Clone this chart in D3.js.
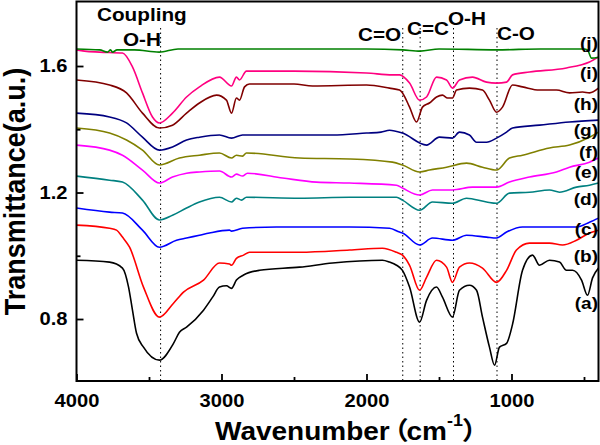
<!DOCTYPE html>
<html>
<head>
<meta charset="utf-8">
<script src="https://cdn.jsdelivr.net/npm/d3@7"></script>
<style>
  body { margin: 0; background: #fff; }
  text { font-family: "Liberation Sans", Arial, "Noto Sans CJK SC", sans-serif; font-weight: bold; fill: #000; }
</style>
</head>
<body>
<div id="chart"></div>
<script>
// FTIR spectra: [wavenumber (cm-1), transmittance (a.u.)]
let specA = [[4000,0.986],[3772,0.980],[3683,0.961],[3641,0.901],[3614,0.828],[3586,0.755],[3538,0.711],[3428,0.670],[3331,0.723],[3290,0.758],[3241,0.774],[3124,0.828],[3060,0.870],[3014,0.901],[2966,0.905],[2931,0.897],[2897,0.923],[2848,0.939],[2738,0.954],[2462,0.964],[2234,0.977],[1890,0.986],[1841,0.980],[1793,0.970],[1752,0.954],[1703,0.901],[1634,0.790],[1586,0.859],[1517,0.901],[1476,0.869],[1407,0.806],[1359,0.891],[1290,0.907],[1241,0.891],[1200,0.806],[1152,0.711],[1117,0.654],[1083,0.711],[1034,0.723],[993,0.783],[924,0.954],[855,1.002],[807,0.970],[738,0.986],[669,0.980],[621,0.954],[579,0.954],[517,0.923],[476,0.875],[441,0.930],[400,0.961]];
let specB = [[4000,1.097],[3772,1.087],[3724,1.081],[3683,1.059],[3634,1.027],[3538,0.901],[3428,0.806],[3331,0.850],[3262,0.885],[3124,0.923],[3014,0.977],[2945,0.974],[2931,0.970],[2897,0.992],[2848,1.002],[2807,1.011],[2462,1.011],[2117,1.018],[1890,1.024],[1793,1.011],[1752,1.002],[1703,0.970],[1634,0.891],[1586,0.932],[1517,0.986],[1448,0.964],[1407,0.916],[1359,0.964],[1290,0.977],[1200,0.961],[1103,0.916],[1034,0.954],[966,1.018],[876,1.040],[738,1.040],[648,1.034],[552,1.049],[462,1.072],[400,1.081]];
let specC = [[4000,1.151],[3772,1.138],[3683,1.135],[3545,1.081],[3428,1.027],[3310,1.049],[3241,1.056],[3152,1.065],[3083,1.072],[2945,1.081],[2931,1.078],[2855,1.087],[2621,1.091],[2372,1.091],[2117,1.091],[1841,1.087],[1772,1.075],[1752,1.072],[1634,1.034],[1545,1.056],[1407,1.049],[1310,1.065],[1172,1.059],[1103,1.056],[1034,1.075],[924,1.091],[690,1.091],[552,1.091],[462,1.106],[400,1.119]];
let specD = [[4000,1.252],[3772,1.239],[3683,1.233],[3545,1.176],[3428,1.113],[3338,1.128],[3241,1.151],[3152,1.170],[3014,1.185],[2931,1.170],[2897,1.182],[2862,1.176],[2828,1.185],[2462,1.182],[2117,1.185],[1793,1.185],[1752,1.176],[1634,1.144],[1545,1.170],[1407,1.166],[1310,1.182],[1172,1.170],[1103,1.166],[1014,1.198],[876,1.201],[738,1.208],[669,1.201],[552,1.217],[462,1.223],[400,1.230]];
let specE = [[4000,1.350],[3772,1.334],[3683,1.318],[3545,1.271],[3428,1.230],[3338,1.249],[3241,1.261],[3152,1.265],[3014,1.268],[2931,1.249],[2897,1.258],[2855,1.252],[2821,1.261],[2579,1.246],[2345,1.233],[2117,1.230],[1793,1.223],[1752,1.214],[1634,1.192],[1545,1.208],[1407,1.208],[1269,1.217],[1103,1.217],[1014,1.233],[876,1.249],[690,1.265],[600,1.280],[462,1.296],[400,1.309]];
let specF = [[4000,1.404],[3772,1.388],[3655,1.366],[3545,1.334],[3428,1.287],[3290,1.309],[3152,1.318],[3014,1.325],[2931,1.309],[2897,1.318],[2855,1.315],[2828,1.325],[2462,1.309],[2117,1.306],[1821,1.296],[1752,1.287],[1634,1.265],[1566,1.271],[1448,1.280],[1310,1.293],[1200,1.280],[1103,1.271],[1014,1.309],[924,1.318],[738,1.341],[600,1.350],[462,1.375],[400,1.391]];
let specG = [[4000,1.451],[3772,1.439],[3655,1.420],[3545,1.375],[3428,1.334],[3338,1.344],[3241,1.366],[3152,1.375],[3014,1.382],[2931,1.372],[2855,1.382],[2462,1.382],[2234,1.382],[2000,1.388],[1900,1.391],[1841,1.397],[1752,1.388],[1586,1.350],[1497,1.375],[1407,1.372],[1359,1.391],[1290,1.382],[1241,1.359],[1172,1.359],[1103,1.372],[1034,1.391],[993,1.404],[807,1.413],[600,1.423],[400,1.429]];
let specH = [[4000,1.556],[3772,1.540],[3655,1.515],[3545,1.451],[3428,1.404],[3338,1.413],[3241,1.451],[3152,1.483],[3034,1.508],[2966,1.492],[2931,1.451],[2897,1.499],[2876,1.492],[2841,1.534],[2807,1.543],[2500,1.543],[2372,1.537],[2000,1.540],[1841,1.530],[1772,1.524],[1752,1.515],[1703,1.470],[1655,1.423],[1614,1.470],[1566,1.483],[1517,1.502],[1476,1.508],[1441,1.499],[1407,1.499],[1379,1.524],[1290,1.530],[1200,1.524],[1152,1.492],[1103,1.454],[1062,1.470],[993,1.540],[924,1.534],[807,1.524],[690,1.524],[600,1.515],[510,1.518],[462,1.515],[400,1.530]];
let specI = [[4000,1.651],[3945,1.647],[3841,1.644],[3683,1.641],[3614,1.597],[3545,1.515],[3476,1.439],[3428,1.420],[3338,1.451],[3241,1.502],[3152,1.534],[3014,1.565],[2931,1.537],[2897,1.565],[2876,1.556],[2828,1.584],[2500,1.584],[2000,1.578],[1821,1.572],[1772,1.572],[1703,1.546],[1634,1.492],[1586,1.502],[1517,1.565],[1448,1.556],[1407,1.530],[1359,1.556],[1269,1.565],[1172,1.549],[1103,1.546],[1034,1.549],[993,1.572],[876,1.581],[621,1.594],[462,1.613],[400,1.628]];
let specJ = [[4000,1.654],[3840,1.651],[3786,1.644],[3765,1.651],[3752,1.644],[3720,1.651],[3600,1.651],[3430,1.644],[3300,1.654],[3000,1.654],[2500,1.654],[2000,1.654],[1750,1.651],[1630,1.647],[1500,1.654],[1100,1.651],[800,1.654],[500,1.654],[476,1.651],[448,1.625],[400,1.628]];

let seriesNames = ["(a)", "(b)", "(c)", "(d)", "(e)", "(f)", "(g)", "(h)", "(i)", "(j)"];
let seriesColors = ["#000000", "#ff0000", "#0000ff", "#008080", "#ff00ff", "#808000", "#000080", "#800000", "#ff0080", "#008000"];

let xTickValues = [4000, 3000, 2000, 1000];
let xMinorTicks = [3500, 2500, 1500, 500];
let yTickValues = [0.8, 1.2, 1.6];
let yMinorTicks = [1.0, 1.4];

let peakLines = [3420, 1750, 1630, 1400, 1100];
let peakLabels = ["O-H", "C=O", "C=C", "O-H", "C-O"];

let seriesData = [specA, specB, specC, specD, specE, specF, specG, specH, specI, specJ];

// set up svg
let svgWidth = 600;
let svgHeight = 445;
let margin = { top: 1.5, right: 1.5, bottom: 64, left: 76.5 };
let width = svgWidth - margin.left - margin.right;
let height = svgHeight - margin.top - margin.bottom;

let svg = d3.select("#chart").append("svg")
  .attr("width", svgWidth)
  .attr("height", svgHeight);

let chartGroup = svg.append("g")
  .attr("transform", `translate(${margin.left}, ${margin.top})`);

let xScale = d3.scaleLinear().domain([4000, 400]).range([0, width]);
let yScale = d3.scaleLinear().domain([0.604, 1.804]).range([height, 0]);

// text in the figure is a bit wider than normal Arial
let stretch = 1.12;

chartGroup.append("clipPath").attr("id", "plotClip")
  .append("rect").attr("width", width).attr("height", height);

// dotted peak markers
chartGroup.selectAll(".peak")
  .data(peakLines)
  .enter()
  .append("line")
  .attr("x1", d => xScale(d))
  .attr("x2", d => xScale(d))
  .attr("y1", 26.5)
  .attr("y2", height)
  .attr("stroke", "#000")
  .attr("stroke-width", 1)
  .attr("stroke-dasharray", "1.5,3");

// spectra
let line = d3.line()
  .x(d => xScale(d[0]))
  .y(d => yScale(d[1]))
  .curve(d3.curveMonotoneX);

chartGroup.append("g").attr("clip-path", "url(#plotClip)")
  .selectAll("path")
  .data(seriesData)
  .enter()
  .append("path")
  .attr("d", d => line(d.map(p => p).sort((a, b) => b[0] - a[0])))
  .attr("fill", "none")
  .attr("stroke", (d, i) => seriesColors[i])
  .attr("stroke-width", 1.6)
  .attr("stroke-linejoin", "round");

// axes, ticks pointing inward
let xAxis = d3.axisBottom(xScale).tickValues(xTickValues).tickSize(-7).tickPadding(13).tickFormat(d3.format("d"));
let xMinor = d3.axisBottom(xScale).tickValues(xMinorTicks).tickSize(-4).tickFormat("");
let yAxis = d3.axisLeft(yScale).tickValues(yTickValues).tickSize(-7).tickPadding(8).tickFormat(d3.format(".1f"));
let yMinor = d3.axisLeft(yScale).tickValues(yMinorTicks).tickSize(-4).tickFormat("");

function styleAxis(g) {
  g.select(".domain").remove();
  g.selectAll("line").attr("stroke", "#000").attr("stroke-width", 1.8);
  g.selectAll("text")
    .style("font-size", "18px")
    .style("font-family", "'Liberation Sans', Arial, sans-serif")
    .style("font-weight", "bold")
    .attr("fill", "#000");
}

chartGroup.append("g").attr("transform", `translate(0, ${height})`).call(xAxis).call(styleAxis)
  .selectAll("text").attr("transform", `scale(${stretch},1)`);
chartGroup.append("g").attr("transform", `translate(0, ${height})`).call(xMinor).call(styleAxis);
chartGroup.append("g").call(yAxis).call(styleAxis)
  .selectAll("text").attr("transform", `scale(${stretch},1)`);
chartGroup.append("g").call(yMinor).call(styleAxis);

// frame
chartGroup.append("rect")
  .attr("width", width)
  .attr("height", height)
  .attr("fill", "none")
  .attr("stroke", "#000")
  .attr("stroke-width", 2);

// series labels on the right
let labelBaselines = [309, 262, 235, 205, 178, 158, 136, 110, 79, 49];
svg.selectAll(".seriesLabel")
  .data(seriesNames)
  .enter()
  .append("text")
  .attr("text-anchor", "end")
  .attr("transform", (d, i) => `translate(598, ${labelBaselines[i]}) scale(${stretch},1)`)
  .style("font-size", "17px")
  .text(d => d);

// peak annotations
function note(txt, x, y, size) {
  svg.append("text")
    .attr("transform", `translate(${x}, ${y}) scale(${stretch},1)`)
    .style("font-size", size + "px")
    .text(txt);
}
note("Coupling", 97, 21, 18.5);
note(peakLabels[0], 123, 46, 18.5);
note(peakLabels[1], 358, 41, 18.5);
note(peakLabels[2], 407, 35, 18.5);
note(peakLabels[3], 448, 25, 18.5);
note(peakLabels[4], 497, 40, 18.5);

// axis titles
svg.append("text")
  .attr("text-anchor", "middle")
  .attr("transform", `translate(25, 191.5) rotate(-90) scale(1,1.08)`)
  .style("font-size", "27px")
  .text("Transmittance(a.u.)");

let xTitle = svg.append("text")
  .attr("transform", `translate(215, 440) scale(${stretch},1)`)
  .style("font-size", "25px");
xTitle.append("tspan").text("Wavenumber");
xTitle.append("tspan").attr("dx", -8).style("font-family", "'Noto Sans CJK SC'").text("（");
xTitle.append("tspan").attr("dx", -2).text("cm");
xTitle.append("tspan").attr("dy", -14).style("font-size", "16px").text("-1");
xTitle.append("tspan").attr("dy", 14).attr("dx", -1).style("font-family", "'Noto Sans CJK SC'").text("）");
</script>
</body>
</html>
